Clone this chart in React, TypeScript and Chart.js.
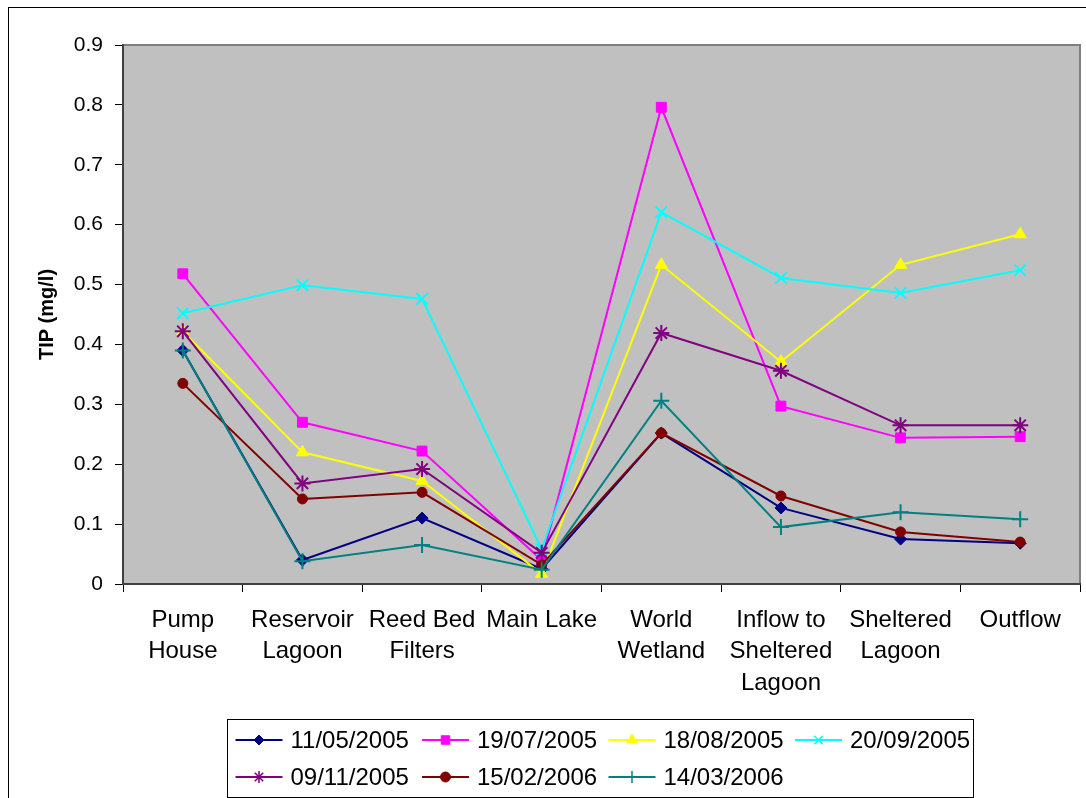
import React, { useEffect, useRef } from "react";
import { Chart, registerables } from "chart.js";
import { drawPoint } from "chart.js/helpers";

Chart.register(...registerables);

// Sampling sites along the flow path (multi-line tick labels)
const sites: string[][] = [
  ["Pump", "House"],
  ["Reservoir", "Lagoon"],
  ["Reed Bed", "Filters"],
  ["Main Lake"],
  ["World", "Wetland"],
  ["Inflow to", "Sheltered", "Lagoon"],
  ["Sheltered", "Lagoon"],
  ["Outflow"],
];

// Total inorganic phosphorus (mg/l) per sampling date
const tip20050511 = [0.39, 0.04, 0.11, 0.025, 0.252, 0.127, 0.075, 0.068];
const tip20050719 = [0.518, 0.27, 0.222, 0.04, 0.796, 0.297, 0.244, 0.246];
const tip20050818 = [0.422, 0.22, 0.172, 0.017, 0.533, 0.371, 0.533, 0.584];
const tip20050920 = [0.452, 0.499, 0.476, 0.058, 0.621, 0.511, 0.486, 0.524];
const tip20051109 = [0.422, 0.168, 0.192, 0.052, 0.419, 0.356, 0.265, 0.265];
const tip20060215 = [0.335, 0.142, 0.153, 0.032, 0.252, 0.147, 0.087, 0.07];
const tip20060314 = [0.39, 0.038, 0.065, 0.024, 0.306, 0.095, 0.12, 0.108];

const seriesLabels = [
  "11/05/2005",
  "19/07/2005",
  "18/08/2005",
  "20/09/2005",
  "09/11/2005",
  "15/02/2006",
  "14/03/2006",
];
const seriesValues = [
  tip20050511,
  tip20050719,
  tip20050818,
  tip20050920,
  tip20051109,
  tip20060215,
  tip20060314,
];
const seriesColors = ["#000080", "#FF00FF", "#FFFF00", "#00FFFF", "#800080", "#800000", "#008080"];
const seriesMarkers = ["rectRot", "rect", "triangle", "crossRot", "star", "circle", "cross"];
const markerRadius = [6, 7, 7, 8, 8, 5, 8];
const legendRadius = [5, 6, 6, 6, 6, 5, 6];

const yTicks = [0, 0.1, 0.2, 0.3, 0.4, 0.5, 0.6, 0.7, 0.8, 0.9];

const FONT = "'Liberation Sans', Arial, Helvetica, sans-serif";
const isOpen = (m: string) => m === "cross" || m === "crossRot" || m === "star";

// Grey plot area with a thin grey frame, drawn beneath the axes
const plotBackground = {
  id: "plotBackground",
  beforeDraw(chart: any) {
    const { ctx, chartArea: a } = chart;
    ctx.save();
    ctx.fillStyle = "#C0C0C0";
    ctx.fillRect(a.left, a.top, a.right - a.left, a.bottom - a.top);
    ctx.strokeStyle = "#808080";
    ctx.lineWidth = 2;
    ctx.strokeRect(a.left, a.top, a.right - a.left, a.bottom - a.top);
    ctx.restore();
  },
};

// Boxed legend: line sample with its marker, then the date, four per row
const boxedLegend = {
  id: "boxedLegend",
  afterDraw(chart: any) {
    const { ctx } = chart;
    const boxW = 746;
    const boxTop = 711;
    const boxBottom = 789;
    const boxLeft = 218;
    ctx.save();
    ctx.strokeStyle = "#000";
    ctx.lineWidth = 1;
    ctx.strokeRect(boxLeft + 0.5, boxTop + 0.5, boxW, boxBottom - boxTop);

    const colW = 186.5;
    const rowY = [732, 769];
    const startX = boxLeft + 8.5;
    ctx.font = `24px ${FONT}`;
    ctx.textBaseline = "middle";
    ctx.textAlign = "left";
    chart.data.datasets.forEach((ds: any, i: number) => {
      const col = i % 4;
      const row = Math.floor(i / 4);
      const x0 = startX + col * colW;
      const y = rowY[row];
      ctx.strokeStyle = seriesColors[i];
      ctx.lineWidth = 2;
      ctx.beginPath();
      ctx.moveTo(x0, y);
      ctx.lineTo(x0 + 47, y);
      ctx.stroke();
      ctx.fillStyle = seriesColors[i];
      ctx.strokeStyle = seriesColors[i];
      ctx.lineWidth = isOpen(seriesMarkers[i]) ? 1.5 : 1;
      drawPoint(ctx, { pointStyle: seriesMarkers[i], radius: legendRadius[i], rotation: 0, borderWidth: 1 } as any, x0 + 23.5, y);
      ctx.fillStyle = "#000";
      ctx.fillText(ds.label, x0 + 55, y + 1);
    });
    ctx.restore();
  },
};

export default function App() {
  const canvasRef = useRef<HTMLCanvasElement | null>(null);

  useEffect(() => {
    if (!canvasRef.current) return;
    const chart = new Chart(canvasRef.current, {
      type: "line",
      data: {
        labels: sites as any,
        datasets: seriesLabels.map((label, i) => ({
          label,
          data: seriesValues[i],
          borderColor: seriesColors[i],
          backgroundColor: seriesColors[i],
          borderWidth: 2,
          pointStyle: seriesMarkers[i] as any,
          pointRadius: markerRadius[i],
          pointBorderWidth: isOpen(seriesMarkers[i]) ? 2 : 1,
          pointBorderColor: seriesColors[i],
          pointBackgroundColor: seriesColors[i],
          tension: 0,
          fill: false,
          order: seriesLabels.length - i,
        })),
      },
      options: {
        responsive: false,
        animation: false,
        devicePixelRatio: 1,
        layout: { autoPadding: false, padding: { top: 37, right: 6, left: 0, bottom: 94 } },
        plugins: {
          legend: { display: false },
          tooltip: { enabled: false },
        },
        scales: {
          x: {
            offset: true,
            afterFit: (s: any) => {
              s.height = 120;
              s.paddingRight = 0;
              s.paddingLeft = 0;
            },
            grid: {
              offset: true,
              drawOnChartArea: false,
              drawTicks: true,
              tickLength: 8,
              tickColor: "#000",
              tickWidth: 1,
            },
            border: { display: true, color: "#404040", width: 2 },
            ticks: {
              color: "#000",
              font: { family: FONT, size: 24, lineHeight: 1.3 },
              padding: 13,
              maxRotation: 0,
              autoSkip: false,
            },
          },
          y: {
            min: 0,
            max: 0.9,
            afterFit: (s: any) => {
              s.width = 114;
            },
            afterBuildTicks: (s: any) => {
              s.ticks = yTicks.map((v) => ({ value: v }));
            },
            grid: {
              drawOnChartArea: false,
              drawTicks: true,
              tickLength: 8,
              tickColor: "#000",
              tickWidth: 1,
            },
            border: { display: true, color: "#404040", width: 2 },
            ticks: {
              color: "#000",
              font: { family: FONT, size: 21 },
              padding: 12,
              callback: (v: any) => String(Number(Number(v).toFixed(1))),
            },
            title: {
              display: true,
              text: "TIP (mg/l)",
              color: "#000",
              font: { family: FONT, size: 20, weight: "bold" },
              padding: { top: 26, bottom: 0 },
            },
          },
        },
      },
      plugins: [plotBackground, boxedLegend],
    });
    return () => chart.destroy();
  }, []);

  return (
    <div
      style={{
        position: "fixed",
        left: 8,
        top: 7,
        width: 1078,
        height: 791,
        borderLeft: "1px solid #000",
        borderTop: "1px solid #000",
        background: "#fff",
      }}
    >
      <canvas ref={canvasRef} width={1077} height={790} style={{ display: "block" }} />
    </div>
  );
}
